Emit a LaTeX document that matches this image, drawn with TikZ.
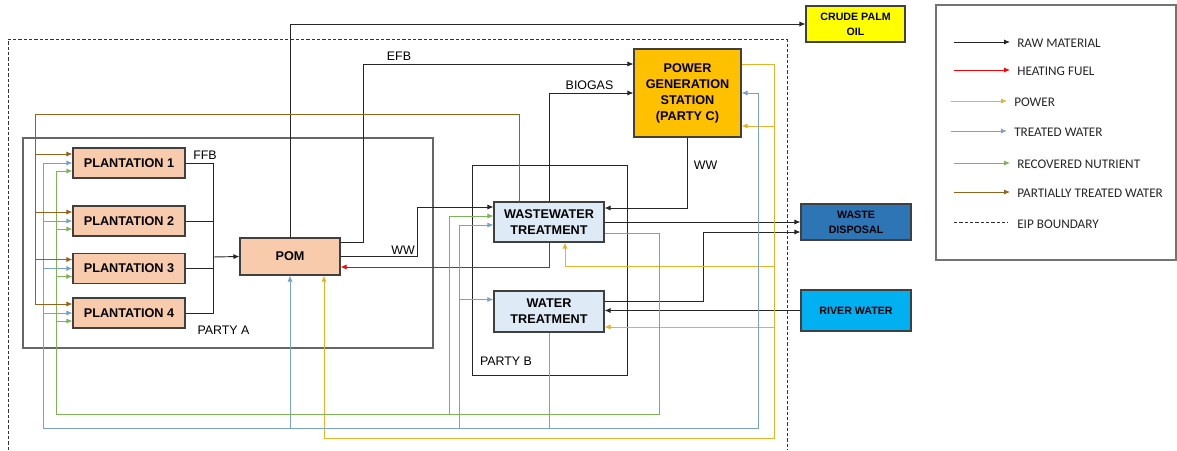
\documentclass[tikz,border=0pt]{standalone}
\usepackage{fontspec}
\setmainfont{Liberation Sans}
\newfontfamily\legendfont{Carlito}
\usetikzlibrary{arrows.meta,calc}

\definecolor{peach}{RGB}{248,203,173}
\definecolor{paleblue}{RGB}{222,235,247}
\definecolor{pgsorange}{RGB}{255,192,0}
\definecolor{cpoyellow}{RGB}{255,255,0}
\definecolor{wdblue}{RGB}{46,117,182}
\definecolor{rwblue}{RGB}{0,176,240}
\definecolor{powerc}{RGB}{230,178,40}
\definecolor{waterc}{RGB}{120,162,205}
\definecolor{nutrc}{RGB}{125,180,85}
\definecolor{partialc}{RGB}{150,100,25}

\begin{document}
\begin{tikzpicture}[x=0.75pt,y=-0.75pt,
    box/.style={draw=black!75, line width=0.8pt, inner sep=0pt, align=center,
        minimum width=84pt, minimum height=22.5pt,
        font=\bfseries\fontsize{9.5}{12}\selectfont},
    plant/.style={box, fill=peach},
    treat/.style={box, fill=paleblue, minimum width=82.5pt, minimum height=30pt},
    ext/.style={box, minimum width=82.5pt, minimum height=27pt,
        font=\bfseries\fontsize{8}{11.5}\selectfont},
    partybox/.style={draw=black!85, line width=0.65pt, inner sep=0pt},
    lbl/.style={inner sep=0pt, font=\fontsize{9.3}{11}\selectfont},
    legtext/.style={inner sep=0pt, anchor=west, text=black!85,
        font=\legendfont\fontsize{9.9}{11}\selectfont},
    flowtip/.style={-{Latex[length=4.5pt,width=3.8pt]}},
    raw/.style={draw=black!85, line width=0.7pt},
    fuel/.style={draw=red, line width=0.7pt},
    power/.style={draw=powerc, line width=0.7pt},
    water/.style={draw=waterc, line width=0.7pt},
    nutr/.style={draw=nutrc, line width=0.7pt},
    partial/.style={draw=partialc, line width=0.7pt},
    eip/.style={draw=black!80, line width=0.6pt, dash pattern=on 2.5pt off 1.5pt}]
    \useasboundingbox (0,0) rectangle (1177,450);

    % Parties
    \node[partybox, draw=black!60, line width=1pt, minimum width=307.5pt, minimum height=157.5pt] (partyA) at (228,243) {};
    \node[partybox, minimum width=116.25pt, minimum height=157.5pt] (partyB) at (549.5,270) {};
    \node[lbl] (partyAlbl) at (223.5,330) {PARTY A};
    \node[lbl] (partyBlbl) at (506,361) {PARTY B};

    % EIP boundary
    \draw[eip] (8,450) -- (8,39) -- (787,39) -- (787,450);

    % Units
    \foreach \i/\y in {1/163,2/221,3/268.5,4/313}
        \node[plant] (p\i) at (129,\y) {PLANTATION \i};
    \node[plant, minimum width=75pt, minimum height=27.75pt] (pom) at (290,256.5) {POM};
    \node[treat] (wwt) at (549,222) {WASTEWATER\\TREATMENT};
    \node[treat, minimum height=30.75pt] (wt) at (549,311.5) {WATER\\TREATMENT};
    \node[box, fill=pgsorange, minimum width=80.25pt, minimum height=66pt] (pgs) at (687.5,93) {POWER\\GENERATION\\STATION\\(PARTY C)};
    \node[ext, fill=cpoyellow, minimum width=74.25pt] (cpo) at (855.5,24) {CRUDE PALM\\OIL};
    \node[ext, fill=wdblue] (wd) at (856,222) {WASTE\\DISPOSAL};
    \node[ext, fill=rwblue, minimum height=30.75pt] (rw) at (856,310.5) {RIVER WATER};

    % Bus corners
    \coordinate (ffb) at (213,257);
    \coordinate (tcol) at (35,114);
    \coordinate (wbus) at (43,428);
    \coordinate (nbus) at (56,414);
    \coordinate (pbus) at (774,438);
    \coordinate (wcol) at (459,428);
    \coordinate (ncol) at (449,414);
    \foreach \i in {1,...,4} {
        \coordinate (pt\i) at ($(p\i.west)+(0,-9)$);
        \coordinate (nu\i) at ($(p\i.west)+(0,8)$);
    }
    \coordinate (pgsin) at ($(pgs.east)+(0,33)$);
    \coordinate (wtpw) at ($(wt.east)+(0,15.5)$);
    \coordinate (wtin) at ($(wt.west)+(0,-12)$);

    % Raw material
    \foreach \i in {1,...,4}
        \draw[raw] (p\i.east) -| (ffb);
    \draw[raw, flowtip] (ffb) -- (pom.west);
    \draw[raw, flowtip] (pom.north) |- (cpo.west);
    \draw[raw, flowtip] ($(pom.east)+(0,-14)$) -- ++(23,0) |- ($(pgs.west)+(0,-29)$);
    \draw[raw, flowtip] (pom.east) -- ++(77,0) |- ($(wwt.west)+(0,-15)$);
    \draw[raw, flowtip] (wwt.north) |- (pgs.west);
    \draw[raw, flowtip] (pgs.south) |- ($(wwt.east)+(0,-14)$);
    \draw[raw, flowtip] (wwt.east) -- (wd.west);
    \draw[raw, flowtip] ($(wt.east)+(0,-10.5)$) -- ++(99,0) |- ($(wd.west)+(0,10)$);
    \draw[raw, flowtip] (rw.west) -- (wt.east |- rw.west);
    \node[lbl] (ffblbl) at (205,155) {FFB};
    \node[lbl] (efblbl) at (399,56) {EFB};
    \node[lbl] (biogaslbl) at (589.5,85) {BIOGAS};
    \node[lbl] (wwlbl) at (403,250) {WW};
    \node[lbl] (wwlblc) at (705.5,165) {WW};

    % Heating fuel
    \draw[fuel, flowtip] (wwt.south) |- ($(pom.east)+(0,10.5)$);

    % Power
    \draw[power, flowtip] ($(pgs.east)+(0,-29)$) -| (pbus) -| ($(pom.south)+(34,0)$);
    \draw[power, flowtip] (pbus |- pgsin) -- (pgsin);
    \draw[power, flowtip] (pbus |- wtpw) -- (wtpw);
    \draw[power, flowtip] ($(pbus)+(0,-172)$) -| ($(wwt.south)+(16,0)$);

    % Treated water
    \draw[water, flowtip] (wt.south) |- (wbus) |- (p1.west);
    \foreach \i in {2,3,4}
        \draw[water, flowtip] (wbus |- p\i.west) -- (p\i.west);
    \draw[water, flowtip] (wt.south |- wbus) -- ++(209,0) |- (pgs.east);
    \draw[water, flowtip] (pom.south |- wbus) -- (pom.south);
    \draw[water, flowtip] (wcol) |- ($(wwt.west)+(0,3)$);
    \draw[water, flowtip] (wcol |- wtin) -- (wtin);

    % Recovered nutrient
    \draw[nutr, flowtip] ($(wwt.east)+(0,11)$) -- ++(55,0) |- (nbus) |- (nu1);
    \foreach \i in {2,3,4}
        \draw[nutr, flowtip] (nbus |- nu\i) -- (nu\i);
    \draw[nutr, flowtip] (ncol) |- ($(wwt.west)+(0,-6)$);

    % Partially treated water
    \draw[partial, flowtip] ($(wwt.north)+(-30,0)$) |- (tcol) |- (pt1);
    \draw[partial] (tcol) -- (tcol |- pt4);
    \foreach \i in {2,3,4}
        \draw[partial, flowtip] (tcol |- pt\i) -- (pt\i);

    % Legend
    \node[draw=black!55, line width=0.8pt, inner sep=0pt, minimum width=180pt, minimum height=191.25pt] (legend) at (1056,132.5) {};
    \foreach \sty/\y/\x/\txt [count=\k] in {raw/42/954/RAW MATERIAL, fuel/70/954/HEATING FUEL,
            power/101/951/POWER, water/131/951/TREATED WATER,
            nutr/163/954/RECOVERED NUTRIENT, partial/192/954/PARTIALLY TREATED WATER} {
        \draw[\sty, flowtip] (\x,\y) -- ++(56,0);
        \node[legtext] (leg\k) at (\x+63,\y+1.5) {\txt};
    }
    \draw[eip] (954,222) -- ++(54,0);
    \node[legtext] (leg7) at (1017,224.5) {EIP BOUNDARY};
\end{tikzpicture}
\end{document}
